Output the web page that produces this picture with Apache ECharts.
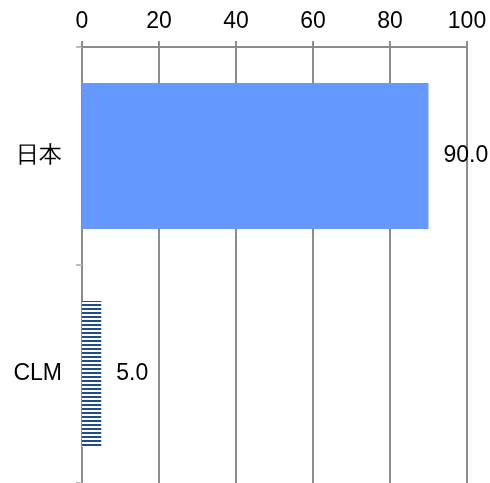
<!DOCTYPE html>
<html>
<head>
<meta charset="utf-8">
<script src="https://cdn.jsdelivr.net/npm/echarts@6/dist/echarts.min.js"></script>
<style>
html, body { margin: 0; padding: 0; background: #fff; }
#chart { width: 490px; height: 483px; }
</style>
</head>
<body>
<div id="chart"></div>
<script>
// data
var categories = ['日本', 'CLM']
var values = [90.0, 5.0]
var xTicks = [0, 20, 40, 60, 80, 100]

// striped fill for the second bar
function stripes() {
  var c = document.createElement('canvas')
  c.width = 4
  c.height = 4
  var ctx = c.getContext('2d')
  ctx.fillStyle = '#ffffff'
  ctx.fillRect(0, 0, 4, 4)
  ctx.fillStyle = '#1f4e8c'
  ctx.fillRect(0, 0, 4, 2)
  return c
}

var chart = echarts.init(document.getElementById('chart'))
var barColors = ['#6699ff', { image: stripes(), repeat: 'repeat' }]

var option = {
  animation: false,
  textStyle: { fontFamily: 'Liberation Sans, Arial, sans-serif' },
  grid: { left: 82, right: 23, top: 47, bottom: 0, containLabel: false },
  xAxis: {
    type: 'value',
    position: 'top',
    min: xTicks[0],
    max: xTicks[xTicks.length - 1],
    interval: 20,
    axisLine: { show: true, lineStyle: { color: '#8c8c8c', width: 2 } },
    axisTick: { show: true, length: 6, lineStyle: { color: '#8c8c8c', width: 2 } },
    axisLabel: { color: '#000', fontSize: 23, margin: 14 },
    splitLine: { show: true, lineStyle: { color: '#8c8c8c', width: 2 } }
  },
  yAxis: {
    type: 'category',
    inverse: true,
    data: categories,
    axisLine: { show: true, lineStyle: { color: '#8c8c8c', width: 2 } },
    axisTick: { show: true, length: 6, lineStyle: { color: '#bbbbbb', width: 2 } },
    axisLabel: { color: '#000', fontSize: 23, margin: 20 }
  },
  series: [{
    type: 'bar',
    barWidth: '67%',
    data: values.map(function (v, i) {
      return { value: v, itemStyle: { color: barColors[i] } }
    }),
    label: {
      show: true,
      position: 'right',
      distance: 15,
      color: '#000',
      fontSize: 23,
      formatter: function (p) { return p.value.toFixed(1) }
    }
  }]
}
chart.setOption(option)
</script>
</body>
</html>
